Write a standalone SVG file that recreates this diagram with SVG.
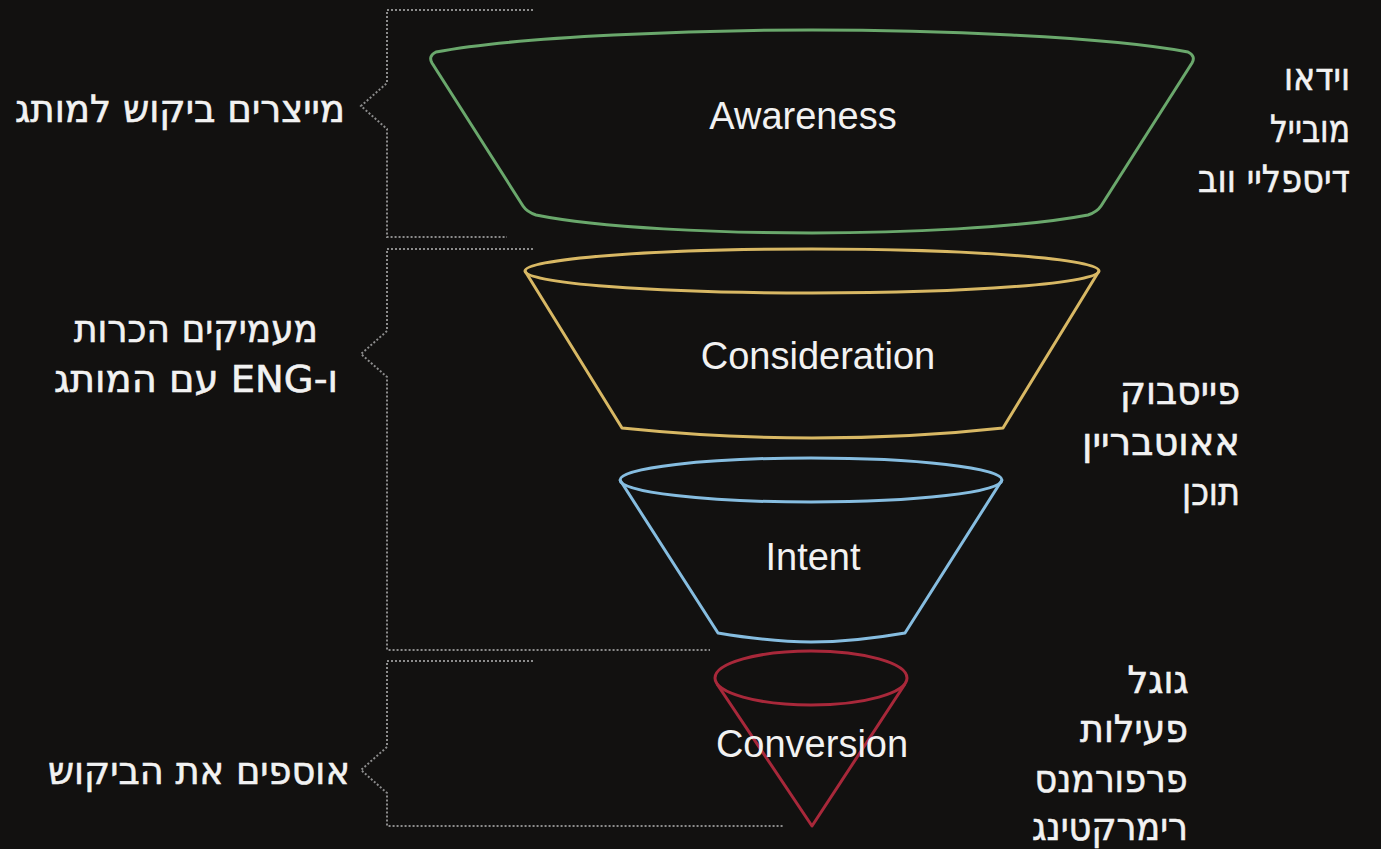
<svg xmlns="http://www.w3.org/2000/svg" width="1381" height="849" viewBox="0 0 1381 849">
<style>
.bg{fill:#121110}
.dot{fill:none;stroke:#8c8c8c;stroke-width:2;stroke-dasharray:2 2}
.fun{fill:none;stroke-width:3;stroke-linejoin:round}
.lbl{font-family:"Liberation Sans",Arial,sans-serif;font-size:38px;fill:#f2f2f2;text-anchor:middle}
.heb{font-family:"DejaVu Sans","Liberation Sans",sans-serif;font-size:38px;fill:#f2f2f2;stroke:#f2f2f2;stroke-width:0.6;direction:rtl;unicode-bidi:embed;text-anchor:middle}
</style>
<rect class="bg" x="0" y="0" width="1381" height="849"/>
<g id="connectors">
  <path class="dot" d="M533,10 H387 V83 L361,106 L387,129 V237 H507"/>
  <path class="dot" d="M533,249 H387 V331 L361,354 L387,377 V650 H710"/>
  <path class="dot" d="M533,661 H387 V747 L361,770 L387,793 V826 H783"/>
</g>
<g id="awareness">
  <path class="fun" stroke="#6aa86c" d="M436,52 C520,36 700,30 812,30 C925,30 1105,36 1188,52 Q1196,56 1192,63 L1101,206 Q1097,212 1088,215 C1020,228 900,233 812,233 C720,233 600,228 536,215 Q527,212 523,206 L432,63 Q428,56 436,52 Z"/>
  <text class="lbl" x="803" y="129">Awareness</text>
</g>
<g id="consideration">
  <ellipse class="fun" stroke="#d8b864" cx="812" cy="271" rx="287" ry="22"/>
  <path class="fun" stroke="#d8b864" d="M525,271 L622,428 C700,436 760,438 812,438 C870,438 930,436 1003,428 L1099,271"/>
  <text class="lbl" x="818" y="369">Consideration</text>
</g>
<g id="intent">
  <ellipse class="fun" stroke="#86bde0" cx="811" cy="480" rx="191" ry="22"/>
  <path class="fun" stroke="#86bde0" d="M620,480 L718,633 C760,640 790,642 811,642 C835,642 865,640 905,633 L1002,480"/>
  <text class="lbl" x="813" y="570">Intent</text>
</g>
<g id="conversion">
  <ellipse class="fun" stroke="#a8283a" stroke-width="2.5" cx="811" cy="678" rx="96" ry="27"/>
  <path class="fun" stroke="#a8283a" stroke-width="2.5" d="M717,684 L812,826 L905,684"/>
  <text class="lbl" x="812" y="757">Conversion</text>
</g>
<g id="left-labels">
  <text class="heb" x="180" y="122" textLength="330" lengthAdjust="spacingAndGlyphs">מייצרים ביקוש למותג</text>
  <text class="heb" x="196" y="342" textLength="244" lengthAdjust="spacingAndGlyphs">מעמיקים הכרות</text>
  <text class="heb" x="196" y="392" textLength="284" lengthAdjust="spacingAndGlyphs">ו-ENG עם המותג</text>
  <text class="heb" x="199" y="784" textLength="302" lengthAdjust="spacingAndGlyphs">אוספים את הביקוש</text>
</g>
<g id="right-labels">
  <text class="heb" x="1317" y="90" textLength="66" lengthAdjust="spacingAndGlyphs">וידאו</text>
  <text class="heb" x="1310" y="142" textLength="80" lengthAdjust="spacingAndGlyphs">מובייל</text>
  <text class="heb" x="1274" y="192" textLength="152" lengthAdjust="spacingAndGlyphs">דיספליי ווב</text>
  <text class="heb" x="1180" y="404" textLength="120" lengthAdjust="spacingAndGlyphs">פייסבוק</text>
  <text class="heb" x="1161" y="455" textLength="158" lengthAdjust="spacingAndGlyphs">אאוטבריין</text>
  <text class="heb" x="1211" y="505" textLength="58" lengthAdjust="spacingAndGlyphs">תוכן</text>
  <text class="heb" x="1158" y="693" textLength="61" lengthAdjust="spacingAndGlyphs">גוגל</text>
  <text class="heb" x="1134" y="742" textLength="108" lengthAdjust="spacingAndGlyphs">פעילות</text>
  <text class="heb" x="1111" y="792" textLength="153" lengthAdjust="spacingAndGlyphs">פרפורמנס</text>
  <text class="heb" x="1110" y="840" textLength="156" lengthAdjust="spacingAndGlyphs">רימרקטינג</text>
</g>
</svg>
